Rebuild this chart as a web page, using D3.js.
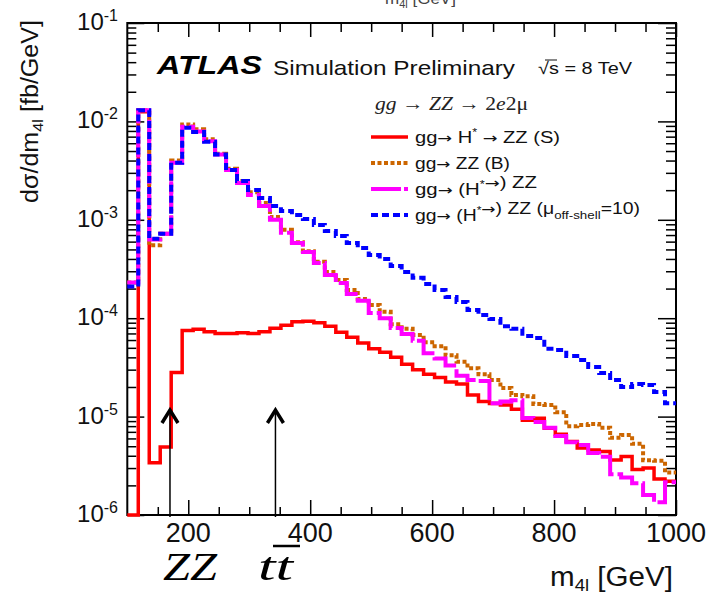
<!DOCTYPE html>
<html><head><meta charset="utf-8">
<script src="https://cdn.jsdelivr.net/npm/d3@7"></script>
<style>body{margin:0;background:#fff} text{font-family:"Liberation Sans",Arial,sans-serif}</style>
</head><body>
<svg id="c" width="725" height="596" xmlns="http://www.w3.org/2000/svg"></svg>
<script>
// ---- data ----
const binEdges = [100,118,136,154,172,190,208,226,244,262,280,298,316,334,352,370,388,406,424,442,460,478,496,514,532,550,568,586,604,622,640,658,676,694,712,730,748,766,784,802,820,838,856,874,892,910,928,946,964,982,1000];
const signalS = [1e-6,1.25e-2,3.4e-6,4.9e-6,2.8e-5,7.5e-5,7.7e-5,7.3e-5,7.0e-5,7.0e-5,
  7.1e-5,7.0e-5,7.3e-5,7.9e-5,8.5e-5,9.2e-5,9.3e-5,9.0e-5,8.3e-5,7.2e-5,
  6.4e-5,5.6e-5,4.9e-5,4.5e-5,4.0e-5,3.4e-5,3.0e-5,2.7e-5,2.5e-5,2.25e-5,
  2.14e-5,1.66e-5,1.42e-5,1.36e-5,1.31e-5,1.19e-5,9.2e-6,9.6e-6,7.6e-6,6.6e-6,
  5.6e-6,4.8e-6,4.57e-6,4.42e-6,3.62e-6,3.93e-6,2.9e-6,3.0e-6,2.32e-6,2.2e-6];
const backgroundB = [2.3e-4,1.3e-2,5.5e-4,7.2e-4,4.0e-3,9.3e-3,8.3e-3,6.6e-3,4.7e-3,3.3e-3,
  2.48e-3,1.91e-3,1.48e-3,1.07e-3,7.9e-4,5.9e-4,4.8e-4,3.75e-4,2.95e-4,2.45e-4,
  1.94e-4,1.57e-4,1.36e-4,1.16e-4,8.7e-5,7.8e-5,6.75e-5,5.7e-5,5.2e-5,4.2e-5,
  3.6e-5,3.1e-5,2.7e-5,2.35e-5,1.95e-5,1.66e-5,1.61e-5,1.34e-5,1.31e-5,1.11e-5,
  8.0e-6,8.2e-6,8.4e-6,7.7e-6,6.1e-6,6.5e-6,5.3e-6,3.6e-6,3.55e-6,2.7e-6];
const fullSB = [2.3e-4,1.3e-2,6.3e-4,7.2e-4,3.8e-3,8.8e-3,7.9e-3,6.3e-3,4.6e-3,3.2e-3,
  2.37e-3,1.79e-3,1.38e-3,1.0e-3,7.4e-4,5.8e-4,4.7e-4,3.64e-4,2.75e-4,2.28e-4,
  1.76e-4,1.5e-4,1.13e-4,1.0e-4,7.95e-5,6.9e-5,5.9e-5,4.4e-5,3.9e-5,3.3e-5,
  2.6e-5,2.35e-5,2.3e-5,1.37e-5,1.42e-5,1.47e-5,9.7e-6,8.8e-6,7.7e-6,6.35e-6,
  5.5e-6,5.15e-6,4.27e-6,3.9e-6,2.6e-6,2.4e-6,2.1e-6,1.6e-6,1.35e-6,2.15e-6];
const fullMu10 = [2.1e-4,1.3e-2,6.4e-4,7.2e-4,3.8e-3,8.6e-3,7.8e-3,6.2e-3,4.6e-3,3.2e-3,
  2.48e-3,2.01e-3,1.67e-3,1.38e-3,1.23e-3,1.12e-3,1.02e-3,8.85e-4,7.7e-4,6.84e-4,
  5.8e-4,5.17e-4,4.39e-4,4.0e-4,3.39e-4,2.95e-4,2.57e-4,2.23e-4,1.94e-4,1.64e-4,
  1.46e-4,1.21e-4,1.08e-4,9.8e-5,8.3e-5,7.8e-5,6.6e-5,6.3e-5,4.9e-5,4.75e-5,
  4.13e-5,3.76e-5,3.19e-5,2.77e-5,2.35e-5,2.0e-5,2.14e-5,2.1e-5,1.78e-5,1.37e-5];
const yMajorTicks = [1e-6,1e-5,1e-4,1e-3,1e-2,1e-1];
const yTickExponents = ["-6","-5","-4","-3","-2","-1"];
const xMajorTicks = [200,400,600,800,1000];
const xTickLabels = ["200","400","600","800","1000"];
const xMinorTicks = [150,250,300,350,450,500,550,650,700,750,850,900,950];
const arrowMasses = [170, 343];
const legendLabels = ["S","B","SB","mu10"];

// ---- layout ----
const L = 127.3, R = 676, T = 23, B = 515;
const SERIF = '"Liberation Serif","Times New Roman",serif';
const ARROWFONT = '"DejaVu Sans",sans-serif';
const svg = d3.select("#c");
const x = d3.scaleLinear().domain([100,1000]).range([L,R]);
const y = d3.scaleLog().domain([1e-6,1e-1]).range([B,T]).clamp(true);

const yMinor = [];
for (let e=-6;e<-1;e++) for (let k=2;k<=9;k++) yMinor.push(k*Math.pow(10,e));

function axisG(axis, tx, ty){
  const g = svg.append("g").attr("transform",`translate(${tx},${ty})`).call(axis);
  g.select(".domain").remove();
  g.selectAll("line").attr("stroke","#000").attr("stroke-width",1.5);
  g.selectAll("text").remove();
  return g;
}
axisG(d3.axisLeft(y).tickValues(yMajorTicks).tickSize(-17).tickFormat(""), L, 0);
axisG(d3.axisLeft(y).tickValues(yMinor).tickSize(-9).tickFormat(""), L, 0);
axisG(d3.axisRight(y).tickValues(yMajorTicks).tickSize(-18).tickFormat(""), R, 0);
axisG(d3.axisRight(y).tickValues(yMinor).tickSize(-10).tickFormat(""), R, 0);
axisG(d3.axisBottom(x).tickValues(xMajorTicks).tickSize(-15).tickFormat(""), 0, B);
axisG(d3.axisBottom(x).tickValues(xMinorTicks).tickSize(-8).tickFormat(""), 0, B);
axisG(d3.axisTop(x).tickValues(xMajorTicks).tickSize(-14).tickFormat(""), 0, T);
axisG(d3.axisTop(x).tickValues(xMinorTicks).tickSize(-9).tickFormat(""), 0, T);

svg.append("rect").attr("x",L).attr("y",T).attr("width",R-L).attr("height",B-T)
  .attr("fill","none").attr("stroke","#000").attr("stroke-width",2);

// tick labels
yMajorTicks.forEach((v,i)=>{
  const t = svg.append("text").attr("x",118).attr("y",y(v)+7).attr("text-anchor","end")
    .attr("font-size",24).attr("fill","#111");
  t.append("tspan").text("10");
  t.append("tspan").attr("font-size",16).attr("dy",-9).text(yTickExponents[i]);
});
xMajorTicks.forEach((v,i)=>{
  svg.append("text").attr("x",x(v)).attr("y",542).attr("text-anchor","middle")
    .attr("font-size",27).attr("fill","#111").text(xTickLabels[i]);
});

// axis titles
const yt = svg.append("text").attr("transform","translate(38,111.5) rotate(-90)")
  .attr("text-anchor","middle").attr("font-size",23).attr("fill","#111").attr("textLength",183).attr("lengthAdjust","spacingAndGlyphs");
yt.append("tspan").text("dσ/dm");
yt.append("tspan").attr("font-size",15).attr("dy",5).text("4l");
yt.append("tspan").attr("dy",-5).text(" [fb/GeV]");

const xt = svg.append("text").attr("x",550).attr("y",586).attr("font-size",27).attr("fill","#111")
  .attr("textLength",123).attr("lengthAdjust","spacingAndGlyphs");
xt.append("tspan").text("m");
xt.append("tspan").attr("font-size",17).attr("dy",5).text("4l");
xt.append("tspan").attr("dy",-5).text(" [GeV]");

// cut-off text at very top (remnant in the reference)
const ct = svg.append("text").attr("x",385).attr("y",4).attr("font-size",17).attr("fill","#444");
ct.append("tspan").text("m");
ct.append("tspan").attr("font-size",11).attr("dy",4).text("4l");
ct.append("tspan").attr("dy",-4).text(" [GeV]");

// ---- histograms ----
function histPoints(vals){
  const pts=[]; vals.forEach((v,i)=>{pts.push([binEdges[i],v]);pts.push([binEdges[i+1],v]);}); return pts;
}
const line = d3.line().x(d=>x(d[0])).y(d=>y(d[1]));
const styles = {
  S:   {data:signalS,     color:"#ff0000", w:3.5, dash:null},
  B:   {data:backgroundB, color:"#cc6600", w:4,   dash:"4,2.5"},
  SB:  {data:fullSB,      color:"#ff00ff", w:4,   dash:"30,4"},
  mu10:{data:fullMu10,    color:"#0000ff", w:4,   dash:"7,4"}
};
legendLabels.forEach(k=>{
  const s = styles[k];
  svg.append("path").attr("d",line(histPoints(s.data))).attr("fill","none")
    .attr("stroke",s.color).attr("stroke-width",s.w).attr("stroke-dasharray",s.dash)
    .attr("stroke-linejoin","miter");
});

// ---- arrows & thresholds ----
arrowMasses.forEach(m=>{
  const ax = x(m);
  svg.append("line").attr("x1",ax).attr("x2",ax).attr("y1",517).attr("y2",410)
    .attr("stroke","#000").attr("stroke-width",1.5);
  svg.append("path").attr("d",`M${ax-8},423 L${ax},410 L${ax+8},423`).attr("fill","none")
    .attr("stroke","#000").attr("stroke-width",3.5);
});
svg.append("text").attr("x",163).attr("y",580).style("font-family",SERIF)
  .attr("font-style","italic").attr("font-size",40).attr("fill","#000")
  .attr("textLength",54).attr("lengthAdjust","spacingAndGlyphs").text("ZZ");
svg.append("text").attr("x",258).attr("y",580).style("font-family",SERIF)
  .attr("font-style","italic").attr("font-size",40).attr("fill","#000")
  .attr("textLength",35).attr("lengthAdjust","spacingAndGlyphs").text("tt");
svg.append("line").attr("x1",273).attr("x2",300).attr("y1",546).attr("y2",546)
  .attr("stroke","#000").attr("stroke-width",2.5);

// ---- header texts ----
svg.append("text").attr("x",157).attr("y",74).attr("font-size",26).attr("font-weight","bold")
  .attr("font-style","italic").attr("fill","#000").attr("textLength",105).attr("lengthAdjust","spacingAndGlyphs").text("ATLAS");
svg.append("text").attr("x",273).attr("y",75).attr("font-size",21).attr("fill","#111")
  .attr("textLength",242).attr("lengthAdjust","spacingAndGlyphs").text("Simulation Preliminary");
svg.append("text").attr("x",538).attr("y",74).attr("font-size",17).attr("fill","#111")
  .attr("textLength",94).attr("lengthAdjust","spacingAndGlyphs").text("√s = 8 TeV");
svg.append("line").attr("x1",545).attr("x2",557).attr("y1",60).attr("y2",60).attr("stroke","#111").attr("stroke-width",1);

const pr = svg.append("text").attr("x",375).attr("y",110).attr("font-size",19).attr("fill","#222")
  .style("font-family",SERIF).attr("textLength",153).attr("lengthAdjust","spacingAndGlyphs");
pr.append("tspan").attr("font-style","italic").text("gg");
pr.append("tspan").text(" → ");
pr.append("tspan").attr("font-style","italic").text("ZZ");
pr.append("tspan").text(" → 2");
pr.append("tspan").attr("font-style","italic").text("e");
pr.append("tspan").text("2μ");

// ---- legend ----
const legY = [137, 163, 189, 215];
const legTextY = [143, 169, 195, 221];
const legLen = [145, 95, 122, 225];
function addPlain(t, str){
  // arrows in a font with a full-size arrow glyph
  str.split("→").forEach((part,j)=>{
    if(j>0) t.append("tspan").style("font-family",ARROWFONT).attr("font-size",14).text("→");
    if(part) t.append("tspan").text(part);
  });
}
legendLabels.forEach((k,i)=>{
  const s = styles[k];
  svg.append("line").attr("x1",371).attr("x2",408).attr("y1",legY[i]).attr("y2",legY[i])
    .attr("stroke",s.color).attr("stroke-width",s.w).attr("stroke-dasharray",k==="SB"?"30,3,6,3":s.dash);
  const t = svg.append("text").attr("x",415).attr("y",legTextY[i]).attr("font-size",16).attr("fill","#111")
    .attr("textLength",legLen[i]).attr("lengthAdjust","spacingAndGlyphs");
  const sup = ()=>{ t.append("tspan").attr("font-size",10).attr("dy",-7).text("*"); };
  if(k==="S"){ addPlain(t,"gg→ H"); sup(); t.append("tspan").attr("dy",7).text(" "); addPlain(t,"→ ZZ (S)"); }
  if(k==="B"){ addPlain(t,"gg→ ZZ (B)"); }
  if(k==="SB"){ addPlain(t,"gg→ (H"); sup(); t.append("tspan").attr("dy",7).text(""); addPlain(t,"→) ZZ"); }
  if(k==="mu10"){ addPlain(t,"gg→ (H"); sup(); t.append("tspan").attr("dy",7).text(""); addPlain(t,"→) ZZ (μ");
    t.append("tspan").attr("font-size",11).attr("dy",5).text("off-shell"); t.append("tspan").attr("dy",-5).text("=10)"); }
});
</script>
</body></html>
